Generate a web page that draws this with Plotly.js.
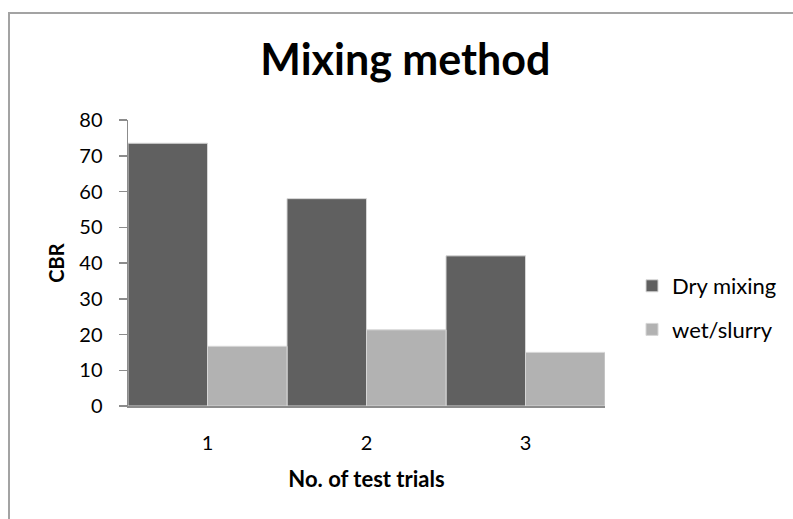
<!DOCTYPE html>
<html>
<head>
<meta charset="utf-8">
<script src="https://cdn.plot.ly/plotly-3.0.1.min.js"></script>
<style>
  html, body { margin: 0; padding: 0; background: #fff; }
  #wrap { position: relative; width: 793px; height: 519px; overflow: hidden; }
  #frame { position: absolute; left: 8px; top: 12px; width: 900px; height: 600px;
           border-left: 2px solid #a3a3a3; border-top: 2px solid #a3a3a3; pointer-events: none; z-index: 5; }
  #chart { position: absolute; left: 0; top: 0; width: 793px; height: 519px; }
</style>
</head>
<body>
<div id="wrap">
  <div id="chart"></div>
  <div id="frame"></div>
</div>
<script>
const categories = ['1', '2', '3'];
const dryMixing = [73.5, 58, 42];
const wetSlurry = [16.7, 21.3, 15];
const seriesNames = ['Dry mixing', 'wet/slurry'];

const FONT = 'Lato, "Open Sans", sans-serif';

const traces = [
  {
    type: 'bar', x: categories, y: dryMixing, name: seriesNames[0],
    legendgroup: 'a',
    marker: { color: '#606060', line: { color: '#d6d6d6', width: 1 } },
    hoverinfo: 'skip'
  },
  {
    type: 'bar', x: categories, y: wetSlurry, name: seriesNames[1],
    legendgroup: 'b',
    marker: { color: '#b2b2b2', line: { color: '#d6d6d6', width: 1 } },
    hoverinfo: 'skip'
  }
];

const layout = {
  width: 793, height: 519,
  margin: { l: 128, r: 187, t: 120, b: 113, pad: 0 },
  paper_bgcolor: '#ffffff', plot_bgcolor: '#ffffff',
  barmode: 'group', bargap: 0, bargroupgap: 0,
  font: { family: FONT, color: '#000000', size: 20 },
  title: {
    text: '<b>Mixing method</b>',
    font: { family: FONT, size: 43, color: '#000000' },
    xref: 'paper', x: (406 - 128) / 478, xanchor: 'center',
    yref: 'container', y: 1 - 60 / 519, yanchor: 'middle'
  },
  xaxis: {
    type: 'category',
    showgrid: false, zeroline: false,
    showline: true, linecolor: '#8c8c8c', linewidth: 1.5,
    ticks: '', ticklabelstandoff: 18,
    tickfont: { family: FONT, size: 20, color: '#000000' },
    title: { text: '<b>No. of test trials</b>', font: { family: FONT, size: 22, color: '#000' }, standoff: 19 }
  },
  yaxis: {
    range: [0, 80], dtick: 10, tick0: 0,
    showgrid: false, zeroline: false,
    showline: true, linecolor: '#8c8c8c', linewidth: 1.5,
    ticks: 'outside', ticklen: 8, tickcolor: '#8c8c8c', tickwidth: 1.5,
    ticklabelstandoff: 12,
    tickfont: { family: FONT, size: 20, color: '#000000' },
    title: { text: '<b>CBR</b>', font: { family: FONT, size: 20, color: '#000' }, standoff: 9 }
  },
  legend: {
    x: (632 - 128) / 478, xanchor: 'left',
    y: (406 - 265) / 286, yanchor: 'top',
    font: { family: FONT, size: 22, color: '#000000' },
    tracegroupgap: 12, bgcolor: 'rgba(0,0,0,0)'
  },
  showlegend: true
};

Plotly.newPlot('chart', traces, layout, { staticPlot: true, displayModeBar: false });
</script>
</body>
</html>
